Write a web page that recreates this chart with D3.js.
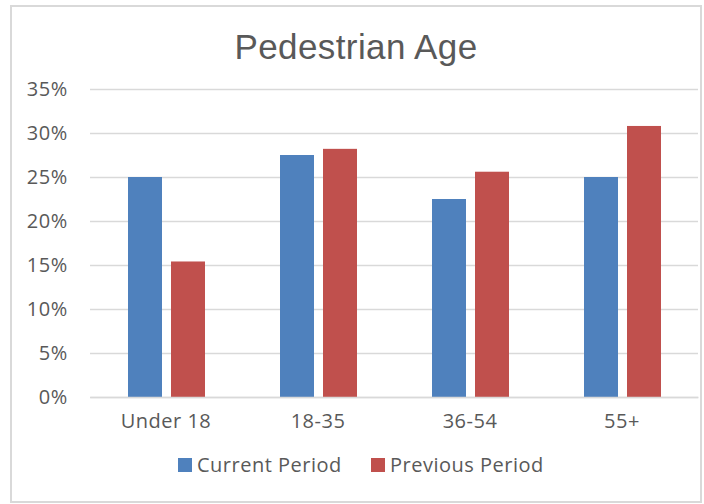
<!DOCTYPE html>
<html>
<head>
<meta charset="utf-8">
<script src="https://cdn.jsdelivr.net/npm/d3@7"></script>
<style>
  body { margin: 0; background: #fff; }
</style>
</head>
<body>
<svg id="chart"></svg>
<script>
const categories = ['Under 18', '18-35', '36-54', '55+'];
const seriesNames = ['Current Period', 'Previous Period'];
const currentPeriod = [25.0, 27.5, 22.5, 25.0];
const previousPeriod = [15.4, 28.2, 25.6, 30.8];
const yTicks = [0, 5, 10, 15, 20, 25, 30, 35];
const colors = ['#4f81bd', '#c0504d'];

const width = 704, height = 504;
const plot = { left: 90, right: 698, top: 89, bottom: 397 };
const labelFont = 'Open Sans, sans-serif';

const svg = d3.select('#chart')
  .attr('width', width)
  .attr('height', height);

svg.append('rect')
  .attr('x', 11).attr('y', 6)
  .attr('width', 690).attr('height', 496)
  .attr('fill', '#fff')
  .attr('stroke', '#d9d9d9')
  .attr('stroke-width', 2);

svg.append('text')
  .attr('x', 356).attr('y', 59)
  .attr('text-anchor', 'middle')
  .style('font-family', 'Liberation Sans, Arial, sans-serif')
  .style('font-size', '35px')
  .style('letter-spacing', '0.4px')
  .attr('fill', '#595959')
  .text('Pedestrian Age');

const x = d3.scaleBand()
  .domain(categories)
  .range([plot.left, plot.right]);

const xInner = d3.scaleBand()
  .domain(seriesNames)
  .range([38, 38 + 77])
  .paddingInner(9 / 77 * 2 / (1 + 9 / 77));

const y = d3.scaleLinear()
  .domain([0, 35])
  .range([plot.bottom, plot.top]);

// gridlines
svg.append('g')
  .attr('transform', `translate(${plot.left},0)`)
  .call(d3.axisLeft(y).tickValues(yTicks).tickSize(-(plot.right - plot.left)).tickFormat(''))
  .call(g => g.select('.domain').remove())
  .call(g => g.selectAll('line').attr('stroke', '#d9d9d9').attr('stroke-width', 1.5));

// y labels
svg.append('g')
  .attr('transform', `translate(${plot.left},0)`)
  .call(d3.axisLeft(y).tickValues(yTicks).tickSize(0).tickPadding(22).tickFormat(d => d + '%'))
  .call(g => g.select('.domain').remove())
  .call(g => g.selectAll('text')
    .attr('fill', '#595959')
    .style('font-family', labelFont)
    .style('font-size', '20px')
    .style('letter-spacing', '0.6px'));

const rows = categories.map((c, i) => ({
  cat: c,
  values: [currentPeriod[i], previousPeriod[i]]
}));

const groups = svg.append('g')
  .selectAll('g')
  .data(rows)
  .enter().append('g')
  .attr('transform', d => `translate(${x(d.cat)},0)`);

groups.selectAll('rect')
  .data(d => d.values.map((v, j) => ({ name: seriesNames[j], v, j })))
  .enter().append('rect')
  .attr('x', d => xInner(d.name))
  .attr('width', xInner.bandwidth())
  .attr('y', d => y(d.v))
  .attr('height', d => y(0) - y(d.v))
  .attr('fill', d => colors[d.j]);

// x axis baseline + labels
svg.append('g')
  .attr('transform', `translate(0,${plot.bottom})`)
  .call(d3.axisBottom(x).tickSize(0).tickPadding(17))
  .call(g => g.select('.domain').attr('stroke', '#d9d9d9').attr('stroke-width', 1.5))
  .call(g => g.selectAll('text')
    .attr('fill', '#595959')
    .style('font-family', labelFont)
    .style('font-size', '20px')
    .style('letter-spacing', '0.5px'));

// legend
const legendX = [178, 371];
const legend = svg.append('g')
  .selectAll('g')
  .data(seriesNames)
  .enter().append('g')
  .attr('transform', (d, i) => `translate(${legendX[i]},458)`);

legend.append('rect')
  .attr('width', 14).attr('height', 14)
  .attr('fill', (d, i) => colors[i]);

legend.append('text')
  .attr('x', 19).attr('y', 14)
  .attr('fill', '#595959')
  .style('font-family', labelFont)
  .style('font-size', '20px')
  .style('letter-spacing', '0.5px')
  .text(d => d);
</script>
</body>
</html>
